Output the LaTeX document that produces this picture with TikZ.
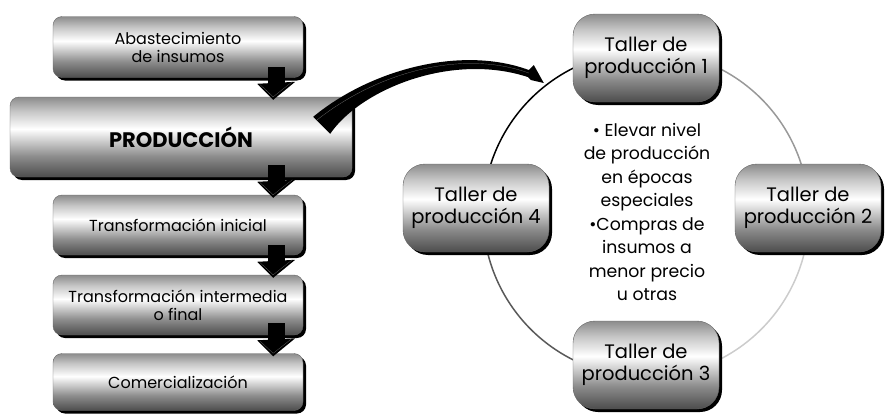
\documentclass[tikz,border=0pt]{standalone}
\usepackage{fontspec}
\setmainfont{Poppins}
\usetikzlibrary{shadows,calc}

\pgfdeclareverticalshading{metal}{100bp}{color(0bp)=(black!70); color(25bp)=(black!70); color(38bp)=(black!45); color(55bp)=(white); color(66bp)=(black!22); color(75bp)=(black!45); color(100bp)=(black!45)}

\tikzset{
  etapa/.style={draw=black!60, rounded corners=9pt, shading=metal, align=center, inner sep=2pt,
    drop shadow={shadow xshift=3pt, shadow yshift=-3pt, fill=black, opacity=1},
    font=\fontsize{16}{18}\selectfont},
  taller/.style={etapa, minimum width=146pt, minimum height=88pt, rounded corners=22pt,
    font=\fontsize{19.5}{22}\selectfont},
  anillo/.style={line width=1.5pt},
}

\begin{document}
\begin{tikzpicture}[x=1pt, y=-1pt]
    \useasboundingbox (0,0) rectangle (887,415);

    % ciclo de talleres
    \coordinate (c) at (646,214);
    \draw[anillo, black] (c) ++(180:163) arc[start angle=180, end angle=270, radius=163];
    \draw[anillo, black!40] (c) ++(270:163) arc[start angle=270, end angle=360, radius=163];
    \draw[anillo, black!20] (c) ++(0:163) arc[start angle=0, end angle=90, radius=163];
    \draw[anillo, black!65] (c) ++(90:163) arc[start angle=90, end angle=180, radius=163];

    % etapas
    \node[etapa, minimum width=250pt, minimum height=61pt] (aba) at (178,47) {Abastecimiento\\de insumos};
    \node[etapa, minimum width=342pt, minimum height=80pt, font=\fontsize{21}{24}\selectfont\bfseries] (prod) at (181,137) {PRODUCCIÓN};
    \node[etapa, minimum width=250pt, minimum height=60pt] (tini) at (178,225) {Transformación inicial};
    \node[etapa, minimum width=250pt, minimum height=60pt] (tint) at (178,305) {Transformación intermedia\\o final};
    \node[etapa, minimum width=250pt, minimum height=57pt] (com) at (178,382) {Comercialización};

    % talleres
    \node[taller] (t1) at (646,58) {Taller de\\producción 1};
    \node[taller] (t2) at (808,208) {Taller de\\producción 2};
    \node[taller] (t3) at (646,365) {Taller de\\producción 3};
    \node[taller] (t4) at (476,208) {Taller de\\producción 4};

    \node[align=center, font=\fontsize{17.3}{23.5}\selectfont] (cent) at (647,212)
      {\textbullet\ Elevar nivel\\de producción\\en épocas\\especiales\\\textbullet Compras de\\insumos a\\menor precio\\u otras};

    % flechas entre etapas
    \foreach \b in {prod,tini,tint,com} {
        \fill ($(\b.north -| aba.east)+(-35,-30)$) rectangle ($(\b.north -| aba.east)+(-18,-12)$);
        \fill ($(\b.north -| aba.east)+(-46,-13)$) -- ($(\b.north -| aba.east)+(-30,3)$) -- ($(\b.north -| aba.east)+(-8,-15)$) -- cycle;
        \draw[black!55, very thin] ($(\b.north -| aba.east)+(-43,-12)$) -- ($(\b.north -| aba.east)+(-30,0)$) -- ($(\b.north -| aba.east)+(-11,-15)$);
    }

    % flecha curva hacia los talleres
    \coordinate (tail) at ($(prod.north east)+(-39,20)$);
    \coordinate (tip) at ($(t1.west)+(-29,25)$);
    \fill (tail) .. controls +(57,-47) and ($(tip)+(-83,-38)$) .. ($(tip)+(-15,-13)$)
        -- ($(tip)+(-10,-18)$) -- (tip) -- ($(tip)+(-13,-3)$) -- ($(tip)+(-16,-6)$)
        .. controls ($(tip)+(-93,-31)$) and ($(tail)+(47,-27)$) .. ($(tail)+(17,17)$) -- cycle;
    \draw[black!50, very thin] ($(tail)+(4,3)$) .. controls +(57,-45) and ($(tip)+(-85,-35)$) .. ($(tip)+(-15,-10)$);
\end{tikzpicture}
\end{document}
